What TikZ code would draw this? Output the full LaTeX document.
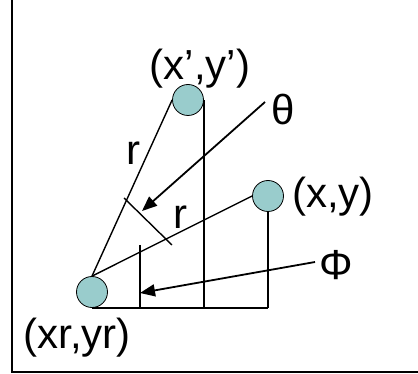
\documentclass[tikz,border=0pt]{standalone}
\usepackage{fontspec}
\setmainfont{Liberation Sans}
\usepackage{tikz}
\usetikzlibrary{calc,arrows.meta,positioning}
\definecolor{tealx}{HTML}{99CCCC}
\tikzset{
  pt/.style={circle,draw=black,thick,fill=tealx,minimum size=31pt,inner sep=0pt},
  ln/.style={draw=black,line width=1.4pt},
  ar/.style={-{Triangle[length=15pt,width=12pt]},line width=1.8pt},
  lb/.style={font=\fontsize{42}{46}\selectfont,inner sep=0pt}
}
\begin{document}
\begin{tikzpicture}[x=1pt,y=-1pt]
\useasboundingbox (0,0) rectangle (418,374);
\draw[line width=2pt] (12,0)--(12,372)--(418,372);
% points
\node[pt] (xr) at (92,292) {};
\node[pt] (xp) at (188,100) {};
\node[pt] (xy) at (268,196) {};
\node[lb] (lxr) at (77,338) {(xr,yr)};
\node[lb] (lxp) at (200,69) {(x’,y’)};
\node[lb] (lxy) at (333,197) {(x,y)};
% projections
\coordinate (b1) at (xr.south);
\coordinate (b2) at (140,308);
\coordinate (b3) at (xp.east|-b1);
\coordinate (b4) at (xy.south|-b1);
\draw[ln] (b1)--(b4);
\draw[ln] (xp.east)--(b3);
\draw[ln] (xy.south)--(b4);
\draw[ln] (140,245)--(b2);
% radii
\draw[ln] (xr.north)--(xp.west);
\draw[ln] (xr.north)--(xy.west);
\node[lb] (r1) at (133,153) {r};
\node[lb] (r2) at (180,217) {r};
\draw[ln] (124,198)--(172,245);
% angles
\node[lb] (th) at (283,110) {θ};
\node[lb] (ph) at (336,265) {Φ};
\coordinate (thtail) at (265,102);
\coordinate (phtail) at (315,262);
\draw[ar] (thtail)--(142,211);
\draw[ar] (phtail)--(140,293);
\end{tikzpicture}
\end{document}
